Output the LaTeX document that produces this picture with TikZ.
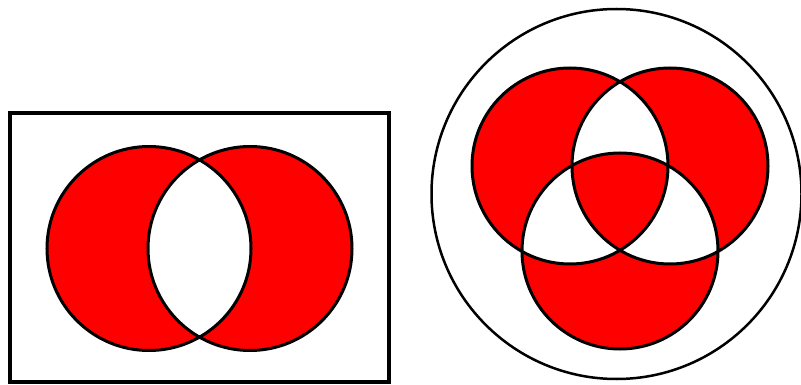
\documentclass[tikz,border=0pt]{standalone}
\begin{document}
\begin{tikzpicture}[x=1pt,y=-1pt,
  outline/.style={draw=black,line width=3pt},
  setfill/.style={fill={rgb,255:red,255;green,0;blue,0},even odd rule}]
\useasboundingbox (0,0) rectangle (801,385);
% left diagram
\node[draw=black,line width=3.5pt,minimum width=379pt,minimum height=269pt,inner sep=0pt] (box) at (199.5,247.5) {};
\coordinate (A) at (149,248.5);
\coordinate (B) at (250,248.5);
\fill[setfill] (A) circle[radius=102] (B) circle[radius=102];
\draw[outline] (A) circle[radius=102] (B) circle[radius=102];
% right diagram
\coordinate (U) at (616.5,194);
\draw[black,line width=2.5pt] (U) circle[radius=185];
\coordinate (P) at (570,166);
\coordinate (Q) at (670,166);
\coordinate (R) at (620,251);
\fill[setfill] (P) circle[radius=98] (Q) circle[radius=98] (R) circle[radius=98];
\draw[outline] (P) circle[radius=98] (Q) circle[radius=98] (R) circle[radius=98];
\end{tikzpicture}
\end{document}
